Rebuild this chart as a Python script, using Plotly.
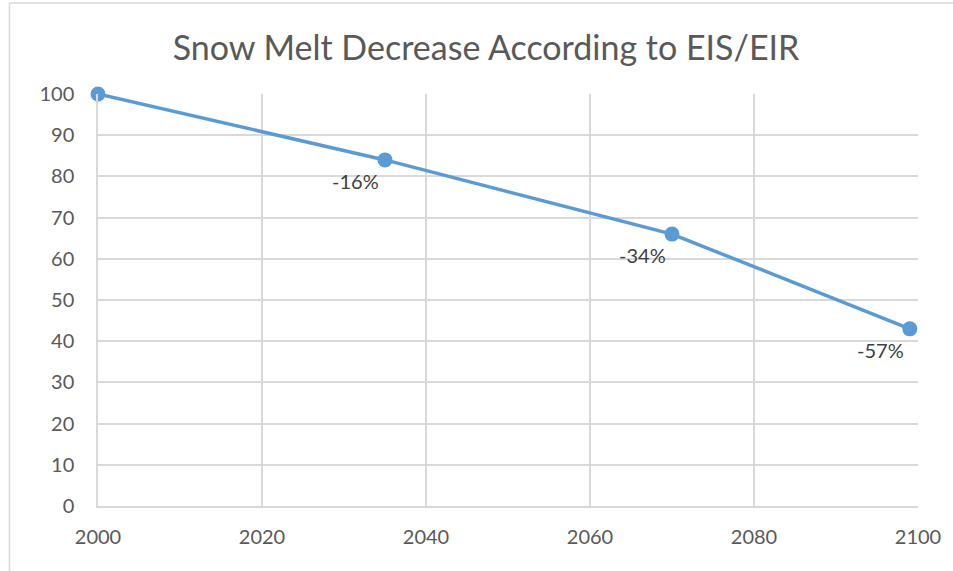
import plotly.graph_objects as go

years = [2000, 2035, 2070, 2099]
snow_melt = [100, 84, 66, 43]
change_labels = ["", "-16%", "-34%", "-57%"]
x_ticks = [2000, 2020, 2040, 2060, 2080, 2100]
y_ticks = [0, 10, 20, 30, 40, 50, 60, 70, 80, 90, 100]

FONT = "Lato, Carlito, Calibri, sans-serif"
GREY_TXT = "#595959"
GRID = "#d9d9d9"
BLUE = "#5b9bd5"

fig = go.Figure()
fig.add_trace(go.Scatter(
    x=years, y=snow_melt, mode="lines+markers",
    line=dict(color=BLUE, width=3.5),
    marker=dict(color=BLUE, size=15),
    hoverinfo="x+y", showlegend=False, cliponaxis=False,
))

for xv, yv, lab in zip(years, snow_melt, change_labels):
    if lab:
        fig.add_annotation(
            x=xv, y=yv, text=lab, showarrow=False,
            xanchor="right", yanchor="top", xshift=-4, yshift=-7,
            font=dict(family=FONT, size=20, color="#404040"),
        )

bx0 = (9 - 98) / 824
by1 = 1 + (94 - 3) / 412
fig.update_layout(
    width=953, height=571,
    margin=dict(l=98, r=31, t=94, b=65),
    paper_bgcolor="white", plot_bgcolor="white",
    title=dict(text="Snow Melt Decrease According to EIS/EIR", x=0.51, xanchor="center",
               y=0.915, yanchor="middle",
               font=dict(family=FONT, size=34, color=GREY_TXT)),
    font=dict(family=FONT, color=GREY_TXT),
    xaxis=dict(range=[2000, 2100], tickvals=x_ticks, showgrid=True, gridcolor=GRID, gridwidth=1.5,
               showline=True, linecolor=GRID, linewidth=1.5, zeroline=False,
               tickfont=dict(family=FONT, size=20, color=GREY_TXT), ticks="", ticklabelstandoff=12),
    yaxis=dict(range=[0, 100], tickvals=y_ticks, showgrid=True, gridcolor=GRID, gridwidth=1.5,
               showline=True, linecolor=GRID, linewidth=1.5, zeroline=False,
               tickfont=dict(family=FONT, size=20, color=GREY_TXT), ticks="", ticklabelstandoff=18),
    shapes=[
        dict(type="line", xref="paper", yref="paper", x0=bx0, x1=bx0, y0=-0.5, y1=by1,
             line=dict(color=GRID, width=1.5), layer="below"),
        dict(type="line", xref="paper", yref="paper", x0=bx0, x1=1.2, y0=by1, y1=by1,
             line=dict(color=GRID, width=1.5), layer="below"),
    ],
)

fig.write_html("out.html", config={"displayModeBar": False},
               post_script="document.body.style.margin='0';document.body.style.overflow='hidden';")
